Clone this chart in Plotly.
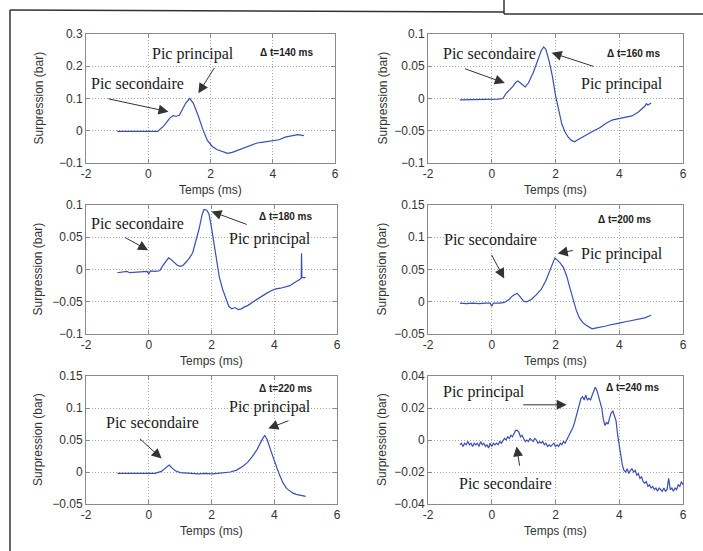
import plotly.graph_objects as go

W, H = 703, 551

# ---------------- data ----------------
t1 = [-1.0, -0.5, 0.0, 0.3, 0.5, 0.7, 0.8, 0.9, 1.0, 1.1, 1.2, 1.33, 1.45, 1.6, 1.75, 1.9, 2.05, 2.2, 2.4,
      2.55, 2.7, 2.9, 3.1, 3.3, 3.5, 3.7, 3.9, 4.1, 4.2, 4.4, 4.6, 4.8, 5.0]
p1 = [-0.002, -0.002, -0.003, -0.002, 0.015, 0.040, 0.047, 0.045, 0.048, 0.065, 0.085, 0.100, 0.085, 0.048,
      0.005, -0.030, -0.048, -0.058, -0.066, -0.070, -0.067, -0.060, -0.052, -0.044, -0.038, -0.035, -0.032,
      -0.030, -0.028, -0.020, -0.015, -0.012, -0.015]

t2 = [-1.0, -0.8, -0.6, -0.4, -0.2, 0.0, 0.2, 0.35, 0.45, 0.55, 0.65, 0.75, 0.82, 0.9, 1.0, 1.05, 1.15, 1.3,
      1.45, 1.55, 1.63, 1.7, 1.8, 1.9, 2.0, 2.1, 2.2, 2.3, 2.4, 2.5, 2.6, 2.7, 2.8, 2.9, 3.0, 3.2, 3.4, 3.6,
      3.8, 4.0, 4.2, 4.4, 4.6, 4.8, 4.85, 4.9, 5.0]
p2 = [-0.002, -0.002, -0.001, -0.002, -0.001, -0.001, -0.001, 0.000, 0.008, 0.013, 0.018, 0.025, 0.027, 0.024,
      0.019, 0.018, 0.024, 0.040, 0.060, 0.074, 0.080, 0.076, 0.058, 0.035, 0.005, -0.020, -0.040, -0.052,
      -0.060, -0.065, -0.067, -0.064, -0.061, -0.058, -0.055, -0.050, -0.045, -0.038, -0.033, -0.031, -0.030,
      -0.027, -0.021, -0.012, -0.008, -0.010, -0.007]

t3 = [-1.0, -0.8, -0.7, -0.6, -0.4, -0.2, -0.05, 0.0, 0.05, 0.2, 0.35, 0.45, 0.55, 0.63, 0.7, 0.8, 0.9, 1.0,
      1.08, 1.2, 1.3, 1.4, 1.5, 1.6, 1.7, 1.76, 1.85, 1.92, 2.0, 2.08, 2.16, 2.25, 2.35, 2.45, 2.55, 2.65,
      2.75, 2.85, 2.95, 3.05, 3.15, 3.3, 3.45, 3.6, 3.75, 3.9, 4.05, 4.2, 4.35, 4.5, 4.65, 4.8, 4.86, 4.87,
      4.88, 4.95, 5.0]
p3 = [-0.005, -0.004, -0.003, -0.005, -0.004, -0.004, -0.003, -0.007, -0.002, -0.003, -0.002, 0.006, 0.013,
      0.018, 0.016, 0.011, 0.007, 0.005, 0.006, 0.012, 0.018, 0.026, 0.042, 0.062, 0.085, 0.093, 0.092, 0.086,
      0.065, 0.040, 0.012, -0.012, -0.030, -0.045, -0.057, -0.061, -0.059, -0.062, -0.061, -0.058, -0.056,
      -0.051, -0.046, -0.041, -0.037, -0.033, -0.030, -0.029, -0.027, -0.025, -0.020, -0.016, -0.013, 0.025,
      -0.012, -0.013, -0.012]

t4 = [-1.0, -0.8, -0.6, -0.4, -0.2, -0.05, 0.0, 0.05, 0.25, 0.4, 0.55, 0.65, 0.75, 0.8, 0.9, 1.0, 1.1, 1.25,
      1.4, 1.55, 1.7, 1.8, 1.9, 1.98, 2.05, 2.15, 2.25, 2.35, 2.45, 2.55, 2.65, 2.75, 2.85, 2.95, 3.05, 3.15,
      3.25, 3.4, 3.55, 3.7, 3.85, 4.0, 4.2, 4.4, 4.6, 4.8, 5.0]
p4 = [-0.002, -0.003, -0.002, -0.003, -0.002, -0.002, -0.007, -0.002, -0.002, -0.001, 0.004, 0.009, 0.012,
      0.013, 0.007, 0.001, 0.000, 0.004, 0.011, 0.019, 0.033, 0.046, 0.060, 0.068, 0.065, 0.060, 0.053, 0.040,
      0.022, 0.003, -0.013, -0.025, -0.032, -0.036, -0.039, -0.042, -0.041, -0.040, -0.038, -0.036, -0.034,
      -0.033, -0.031, -0.029, -0.027, -0.025, -0.021]

t5 = [-1.0, -0.8, -0.6, -0.4, -0.2, 0.0, 0.2, 0.4, 0.5, 0.6, 0.65, 0.75, 0.85, 1.0, 1.2, 1.4, 1.6, 1.8, 2.0,
      2.2, 2.4, 2.6, 2.8, 3.0, 3.15, 3.3, 3.45, 3.55, 3.65, 3.7, 3.78, 3.88, 3.98, 4.08, 4.18, 4.28, 4.4,
      4.5, 4.6, 4.7, 4.8, 4.9, 5.0]
p5 = [-0.002, -0.002, -0.003, -0.002, -0.003, -0.002, -0.002, 0.001, 0.005, 0.010, 0.011, 0.006, 0.002,
      -0.001, -0.002, -0.002, -0.003, -0.002, -0.003, -0.002, -0.001, 0.000, 0.003, 0.009, 0.015, 0.024,
      0.035, 0.045, 0.054, 0.057, 0.050, 0.035, 0.020, 0.007, -0.006, -0.017, -0.026, -0.030, -0.033,
      -0.035, -0.036, -0.037, -0.038]

t6 = [-1.00, -0.95, -0.90, -0.85, -0.80, -0.75, -0.70, -0.65, -0.60, -0.55, -0.50, -0.45, -0.40, -0.35,
      -0.30, -0.25, -0.20, -0.15, -0.10, -0.05, 0.00, 0.05, 0.10, 0.15, 0.20, 0.25, 0.30, 0.35, 0.40, 0.45,
      0.50, 0.55, 0.60, 0.65, 0.70, 0.75, 0.80, 0.85, 0.90, 0.95, 1.00, 1.05, 1.10, 1.15, 1.20, 1.25, 1.30,
      1.35, 1.40, 1.45, 1.50, 1.55, 1.60, 1.65, 1.70, 1.75, 1.80, 1.85, 1.90, 1.95, 2.00, 2.05, 2.10, 2.15,
      2.20, 2.25, 2.30, 2.35, 2.40, 2.45, 2.50, 2.55, 2.60, 2.65, 2.70, 2.75, 2.80, 2.85, 2.90, 2.95, 3.00,
      3.05, 3.10, 3.15, 3.20, 3.25, 3.30, 3.35, 3.40, 3.45, 3.50, 3.55, 3.60, 3.65, 3.70, 3.75, 3.80, 3.85,
      3.90, 3.95, 4.00, 4.05, 4.10, 4.15, 4.20, 4.25, 4.30, 4.35, 4.40, 4.45, 4.50, 4.55, 4.60, 4.65, 4.70,
      4.75, 4.80, 4.85, 4.90, 4.95, 5.00, 5.05, 5.10, 5.15, 5.20, 5.25, 5.30, 5.35, 5.40, 5.45, 5.50, 5.55,
      5.60, 5.65, 5.70, 5.75, 5.80, 5.85, 5.90, 5.95, 6.00]
p6 = [-0.003, -0.002, -0.004, -0.002, -0.003, -0.001, -0.003, -0.002, -0.004, -0.002, -0.003, -0.002,
      -0.004, -0.001, -0.003, -0.002, -0.004, -0.003, -0.005, -0.002, -0.004, -0.002, -0.003, -0.002,
      -0.003, -0.001, -0.002, 0.000, 0.001, 0.000, 0.002, 0.001, 0.003, 0.002, 0.004, 0.006, 0.006, 0.005,
      0.002, 0.003, 0.001, -0.001, 0.000, -0.001, 0.001, 0.000, -0.001, 0.001, 0.000, -0.002, -0.001,
      -0.002, -0.001, -0.003, -0.002, -0.004, -0.003, -0.004, -0.003, -0.002, -0.004, -0.003, -0.004,
      -0.002, -0.003, -0.001, -0.002, 0.000, 0.001, 0.003, 0.005, 0.008, 0.011, 0.015, 0.019, 0.022, 0.026,
      0.027, 0.025, 0.028, 0.025, 0.026, 0.025, 0.028, 0.030, 0.033, 0.031, 0.027, 0.024, 0.020, 0.013,
      0.009, 0.011, 0.010, 0.014, 0.017, 0.018, 0.015, 0.012, 0.003, -0.004, -0.010, -0.016, -0.019,
      -0.020, -0.018, -0.021, -0.019, -0.018, -0.020, -0.019, -0.022, -0.021, -0.024, -0.023, -0.026,
      -0.027, -0.026, -0.029, -0.028, -0.030, -0.029, -0.031, -0.030, -0.032, -0.030, -0.031, -0.032,
      -0.030, -0.032, -0.031, -0.024, -0.031, -0.030, -0.032, -0.030, -0.031, -0.028, -0.029, -0.026, -0.028]

delta_labels = ["Δ t=140 ms", "Δ t=160 ms", "Δ t=180 ms", "Δ t=200 ms", "Δ t=220 ms", "Δ t=240 ms"]
y_ranges = [[-0.1, 0.3], [-0.1, 0.1], [-0.1, 0.1], [-0.05, 0.15], [-0.05, 0.15], [-0.04, 0.04]]
y_dticks = [0.1, 0.05, 0.05, 0.05, 0.05, 0.02]
x_ticks = [-2, 0, 2, 4, 6]

series = [(t1, p1), (t2, p2), (t3, p3), (t4, p4), (t5, p5), (t6, p6)]

# plot-area boxes in pixels: (left, right, top, bottom)
boxes = [(86, 335, 34, 163), (428, 683, 34, 163),
         (86, 337, 205, 334), (428, 683, 205, 334),
         (86, 337, 376, 504), (428, 683, 376, 504)]
ytitle_x = [38, 382, 38, 382, 38, 382]

# annotation specs per panel: (text, text_x, text_y, tail_x, tail_y, tip_x, tip_y)
notes = [
    [("Pic principal", 1.44, 0.238, 2.15, 0.199, 1.61, 0.116),
     ("Pic secondaire", -0.34, 0.145, -1.33, 0.100, 0.65, 0.059)],
    [("Pic secondaire", -0.06, 0.070, -0.89, 0.047, 0.41, 0.024),
     ("Pic principal", 4.10, 0.022, 3.24, 0.049, 1.88, 0.071)],
    [("Pic secondaire", -0.36, 0.072, -0.81, 0.051, -0.02, 0.030),
     ("Pic principal", 3.86, 0.047, 3.17, 0.069, 2.00, 0.090)],
    [("Pic secondaire", -0.05, 0.097, -0.03, 0.075, 0.39, 0.036),
     ("Pic principal", 4.08, 0.074, 2.59, 0.080, 2.07, 0.075)],
    [("Pic secondaire", 0.12, 0.077, -0.33, 0.054, 0.41, 0.021),
     ("Pic principal", 3.86, 0.101, 4.50, 0.081, 3.81, 0.068)],
    [("Pic principal", -0.24, 0.030, 0.94, 0.022, 2.35, 0.022),
     ("Pic secondaire", 0.44, -0.027, 0.88, -0.017, 0.78, -0.004)],
]
delta_pos = [(4.43, 0.244), (4.46, 0.069), (4.37, 0.082), (4.18, 0.127), (4.37, 0.131), (4.41, 0.033)]

fig = go.Figure()
layout = dict(width=W, height=H, margin=dict(l=0, r=0, t=0, b=0),
              paper_bgcolor="white", plot_bgcolor="white", showlegend=False,
              font=dict(family="Liberation Sans, Arial", size=12, color="#333"))
annotations = []

SERIF = "Liberation Serif"
SANS = "Liberation Sans"

for i, ((t, p), (l, r, tp, bt)) in enumerate(zip(series, boxes)):
    n = "" if i == 0 else str(i + 1)
    xa, ya = "x" + n, "y" + n
    fig.add_trace(go.Scatter(x=t, y=p, mode="lines", xaxis=xa, yaxis=ya,
                             line=dict(color="#3b4db3", width=1.2), hoverinfo="skip"))
    common = dict(showline=True, linecolor="#8a8a8a", linewidth=1, mirror="ticks",
                  ticks="inside", ticklen=4, tickcolor="#8a8a8a",
                  showgrid=True, gridcolor="#a8a8a8", griddash="1px,2px", gridwidth=1,
                  zeroline=False, automargin=False,
                  tickfont=dict(family=SANS, size=12, color="#333"))
    layout["xaxis" + n] = dict(common, domain=[l / W, r / W], anchor=ya, range=[-2, 6],
                               tickvals=x_ticks, ticktext=[str(v) for v in x_ticks])
    layout["yaxis" + n] = dict(common, domain=[1 - bt / H, 1 - tp / H], anchor=xa,
                               range=y_ranges[i], dtick=y_dticks[i], tick0=0)
    # axis titles
    annotations.append(dict(x=(l + r) / 2 / W, y=1 - (bt + 27) / H, xref="paper", yref="paper",
                            text="Temps (ms)", showarrow=False, xanchor="center", yanchor="middle",
                            font=dict(family=SANS, size=12, color="#333")))
    annotations.append(dict(x=ytitle_x[i] / W, y=1 - (tp + bt) / 2 / H, xref="paper", yref="paper",
                            text="Surpression (bar)", showarrow=False, textangle=-90,
                            xanchor="center", yanchor="middle",
                            font=dict(family=SANS, size=12, color="#333")))
    for (txt, tx, ty, ax_, ay_, hx, hy) in notes[i]:
        annotations.append(dict(x=tx, y=ty, xref=xa, yref=ya, text=txt, showarrow=False,
                                font=dict(family=SERIF, size=16, color="#1a1a1a")))
        annotations.append(dict(x=hx, y=hy, xref=xa, yref=ya, ax=ax_, ay=ay_, axref=xa, ayref=ya,
                                text="", showarrow=True, arrowhead=2, arrowsize=2, arrowwidth=1,
                                arrowcolor="#333"))
    dx, dy = delta_pos[i]
    annotations.append(dict(x=dx, y=dy, xref=xa, yref=ya, text="<b>" + delta_labels[i] + "</b>",
                            showarrow=False,
                            font=dict(family=SANS, size=10, color="#222")))

layout["annotations"] = annotations

# outer frame lines of the scanned figure
def px(x):
    return x / W

def py(y):
    return 1 - y / H

frame_color = "#333"
layout["shapes"] = [
    dict(type="line", xref="paper", yref="paper", x0=px(10), y0=py(10), x1=px(10), y1=0,
         line=dict(color=frame_color, width=1.5)),
    dict(type="line", xref="paper", yref="paper", x0=px(10), y0=py(10), x1=px(504), y1=py(12),
         line=dict(color=frame_color, width=1.5)),
    dict(type="line", xref="paper", yref="paper", x0=px(504), y0=1, x1=px(504), y1=py(14),
         line=dict(color=frame_color, width=1.5)),
    dict(type="line", xref="paper", yref="paper", x0=px(504), y0=py(14), x1=1, y1=py(14),
         line=dict(color=frame_color, width=1.5)),
]

fig.update_layout(**layout)
fig.write_html("out.html", config={"displayModeBar": False},
               post_script="document.body.style.margin='0';document.body.style.padding='0';")
